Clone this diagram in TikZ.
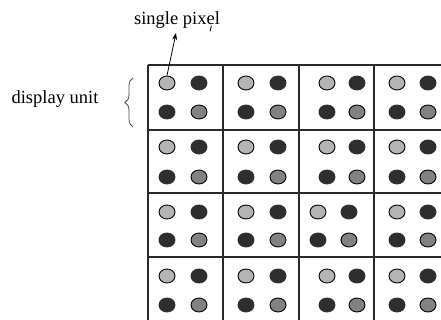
\documentclass[tikz,border=0pt]{standalone}
\usepackage{fontspec}
\setmainfont{Liberation Serif}
\usetikzlibrary{shapes.geometric,decorations.pathreplacing,arrows.meta}

\definecolor{pxlight}{HTML}{B4B4B4}
\definecolor{pxdark}{HTML}{2E2E2E}
\definecolor{pxmid}{HTML}{828282}
\definecolor{gridline}{HTML}{2A2A2A}

\tikzset{
  dotbase/.style={ellipse, inner sep=0pt, minimum width=16pt, minimum height=14pt, line width=0.9pt},
  lightdot/.style={dotbase, fill=pxlight, draw=black},
  darkdot/.style={dotbase, fill=pxdark, draw=pxdark},
  middot/.style={dotbase, fill=pxmid, draw=black},
  gridstroke/.style={draw=gridline, line width=1.1pt},
  label/.style={font=\fontsize{18.5}{20}\selectfont, inner sep=0pt},
}

\begin{document}
\begin{tikzpicture}[x=1pt, y=-1pt]
  \useasboundingbox (0,0) rectangle (441,320);
  \begin{scope}
    \clip (0,0) rectangle (441,320);
    % grid of display units
    \foreach \gy in {65,130,193,257}
      \draw[gridstroke] (148,\gy) -- (450,\gy);
    \foreach \gx in {148,223,299,374}
      \draw[gridstroke] (\gx,65) -- (\gx,330);
    % four pixels in each display unit
    \foreach \r/\ya/\yb in {1/83/112, 2/147/177, 3/212/240, 4/276/305}{
      \foreach \c/\xa/\xb in {1/167/199, 2/246/278, 3/327/357, 4/397/428}{
        \ifnum\r\c=33
          \def\xa{318}\def\xb{349}
        \fi
        \node[lightdot] (p\r\c a) at (\xa,\ya) {};
        \node[darkdot]  (p\r\c b) at (\xb,\ya) {};
        \node[darkdot]  (p\r\c c) at (\xa,\yb) {};
        \node[middot]   (p\r\c d) at (\xb,\yb) {};
      }
    }
  \end{scope}

  % labels
  \node[label] (pixel) at (177,20) {single pixel};
  \node[label] (unit) at (55,99) {display unit};

  % small stray stroke under the label
  \coordinate (tickTop) at (211.3,26);
  \coordinate (tickEnd) at (210.2,31);
  \draw[line width=0.9pt, line cap=round] (tickTop) .. controls (211.6,28.5) .. (tickEnd);

  % pointer to one pixel
  \coordinate (tip) at (176,33);
  \draw[line width=0.8pt, -{Stealth[length=7pt, width=5pt]}] (p11a.north) -- (tip);

  % brace around one display unit
  \coordinate (braceBot) at (133,127);
  \coordinate (braceTop) at (133,78);
  \draw[draw=black!70, line width=0.8pt, decorate, decoration={brace, amplitude=8pt}] (braceBot) -- (braceTop);
\end{tikzpicture}
\end{document}
